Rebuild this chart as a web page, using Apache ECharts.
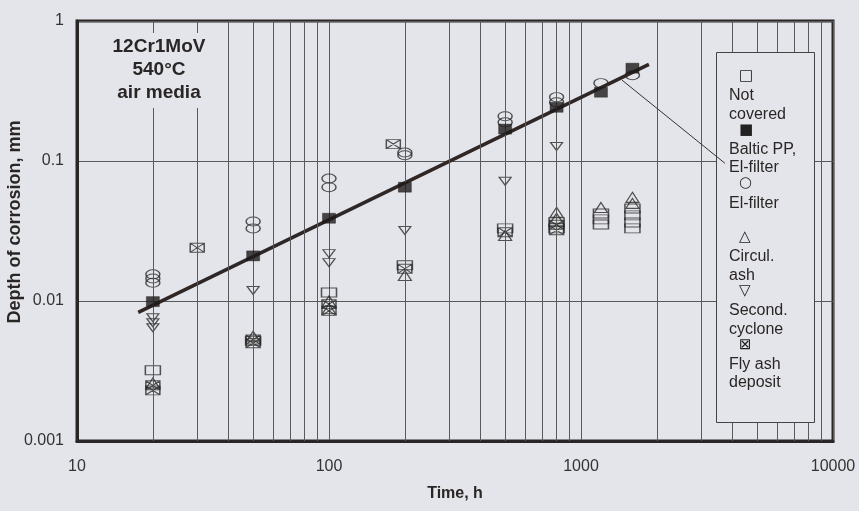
<!DOCTYPE html>
<html><head><meta charset="utf-8">
<script src="https://cdn.jsdelivr.net/npm/echarts@6/dist/echarts.min.js"></script>
<style>html,body{margin:0;padding:0;background:#e4e5ea}#c{width:859px;height:511px}</style>
</head><body><div id="c"></div>
<script>
// ---- data ----
const xTickLabels = ['10', '100', '1000', '10000'];
const yTickLabels = ['0.001', '0.01', '0.1', '1'];
const minorX = [20,30,40,50,60,70,80,90,200,300,400,500,600,700,800,900,2000,3000,4000,5000,6000,7000,8000,9000];
const notCovered = [[20,0.0032],[50,0.0052],[100,0.0115],[200,0.018],[500,0.033],[800,0.0365],[800,0.033],[1200,0.0422],[1200,0.0383],[1200,0.0352],[1600,0.0458],[1600,0.0409],[1600,0.0364],[1600,0.033]];
const balticPP = [[20,0.0099],[50,0.021],[100,0.039],[200,0.065],[500,0.169],[800,0.242],[1200,0.31],[1600,0.46]];
const elFilter = [[20,0.0155],[20,0.0145],[20,0.0135],[50,0.037],[50,0.033],[100,0.075],[100,0.065],[200,0.115],[200,0.110],[500,0.209],[500,0.189],[800,0.286],[800,0.263],[1200,0.36],[1600,0.41]];
const circulAsh = [[20,0.0026],[50,0.0056],[100,0.0100],[100,0.0088],[200,0.0152],[500,0.0294],[800,0.043],[800,0.039],[1200,0.0466],[1600,0.055],[1600,0.0498]];
const secondCyclone = [[20,0.0076],[20,0.0070],[20,0.00645],[50,0.0119],[100,0.0218],[100,0.0188],[200,0.0319],[500,0.0716],[800,0.127]];
const flyAsh = [[20,0.0025],[20,0.0023],[30,0.024],[50,0.0053],[50,0.0050],[100,0.0095],[100,0.0085],[180,0.132],[200,0.0170],[500,0.031],[800,0.035],[800,0.032]];
const fitLine = [[17.5,0.0083],[1860,0.49]];
const leader = [[1455,0.378],[3726,0.0963]];
const legendNames = ['Not covered','Baltic PP, El-filter','El-filter','Circul. ash','Second. cyclone','Fly ash deposit'];
const legendGlyph = {'Not covered':'□','Baltic PP, El-filter':'■','El-filter':'○','Circul. ash':'△','Second. cyclone':'▽','Fly ash deposit':'⊠'};
const legendLines = {'Not covered':['Not','covered'],'Baltic PP, El-filter':['Baltic PP,','El-filter'],'El-filter':['El-filter',' '],'Circul. ash':['Circul.','ash'],'Second. cyclone':['Second.','cyclone'],'Fly ash deposit':['Fly ash','deposit']};

const BG = '#e4e5ea', INK = '#2a2626', GRID = '#5a5a5a';
const FONT = 'Liberation Sans, Arial, sans-serif';
const open = {color:'rgba(0,0,0,0)', borderColor:'#2a2a2a', borderWidth:1.2};

const chart = echarts.init(document.getElementById('c'), null, {renderer:'canvas'});
chart.setOption({
  backgroundColor: BG,
  animation: false,
  textStyle: {fontFamily: FONT},
  grid: {left:77, right:26, top:21, bottom:70, containLabel:false, outerBoundsMode:'none',
    show:true, borderColor:INK, borderWidth:3, backgroundColor:'transparent'},
  title: {
    text: '12Cr1MoV\n540°C\nair media', left: 155, top: 33, textAlign: 'center',
    backgroundColor: BG, padding: [2, 4, 4, 4],
    textStyle: {fontSize: 19, fontWeight: 'bold', lineHeight: 23, color: INK, fontFamily: FONT}
  },
  graphic: [{type: 'rect', z: 50, silent: true,
    shape: {x: 716.5, y: 52.5, width: 98, height: 370},
    style: {fill: BG, stroke: '#444', lineWidth: 1}}],
  legend: {
    orient: 'vertical', left: 716, top: 52, data: legendNames, z: 60,
    icon: 'none', itemWidth: 0, itemHeight: 0, itemGap: 0, selectedMode: false,
    padding: [16.5, 10, 6, 8],
    formatter: n => '{ic|' + legendGlyph[n] + '}\n' + legendLines[n].map(s => '{t|' + s + '}').join('\n'),
    textStyle: {
      rich: {
        ic: {fontFamily: 'DejaVu Sans', fontSize: 15, lineHeight: 21, padding: [0,0,0,10], color: '#222'},
        t: {fontFamily: FONT, fontSize: 16, lineHeight: 18.5, color: INK}
      }
    }
  },
  xAxis: {
    type: 'log', logBase: 10, min: 10, max: 10000,
    axisLine: {show: true, lineStyle: {color: INK, width: 3}},
    axisTick: {show: false},
    axisLabel: {fontSize: 16, color: '#333', margin: 18, fontFamily: FONT,
      formatter: v => xTickLabels[Math.round(Math.log10(v)) - 1]},
    splitLine: {show: true, lineStyle: {color: GRID, width: 1}},
    name: 'Time, h', nameLocation: 'middle', nameGap: 45, nameMoveOverlap: false,
    nameTextStyle: {fontSize: 16, fontWeight: 'bold', color: INK, fontFamily: FONT}
  },
  yAxis: {
    type: 'log', logBase: 10, min: 0.001, max: 1,
    axisLine: {show: true, lineStyle: {color: INK, width: 3}},
    axisTick: {show: false},
    axisLabel: {fontSize: 16, color: '#333', margin: 13, fontFamily: FONT,
      formatter: v => yTickLabels[Math.round(Math.log10(v)) + 3]},
    splitLine: {show: true, lineStyle: {color: GRID, width: 1}},
    name: 'Depth of corrosion, mm', nameLocation: 'middle', nameGap: 53, nameRotate: 90, nameMoveOverlap: false,
    nameTextStyle: {fontSize: 18, fontWeight: 'bold', color: INK, fontFamily: FONT, padding: [0, 0, 0, 18]}
  },
  series: [
    {type: 'line', name: 'grid', data: [], silent: true, z: 1,
      markLine: {silent: true, symbol: 'none', label: {show: false},
        lineStyle: {color: GRID, width: 1, type: 'solid'},
        data: minorX.map(v => ({xAxis: v}))}},
    {type: 'scatter', name: 'Not covered', data: notCovered, symbol: 'rect', symbolSize: [15, 9], itemStyle: open, z: 3},
    {type: 'scatter', name: 'Circul. ash', data: circulAsh, symbol: 'triangle', symbolSize: [13, 10], itemStyle: open, z: 3},
    {type: 'scatter', name: 'Second. cyclone', data: secondCyclone, symbol: 'triangle', symbolRotate: 180, symbolSize: [12, 8], itemStyle: open, z: 3},
    {type: 'scatter', name: 'Fly ash deposit', data: flyAsh, symbol: 'path://M0 0H14V9H0Z M0 0L14 9 M14 0L0 9', symbolSize: [14, 9], itemStyle: open, z: 3},
    {type: 'scatter', name: 'El-filter', data: elFilter, symbol: 'circle', symbolSize: [14, 9], itemStyle: open, z: 3},
    {type: 'line', name: 'fit', data: fitLine, symbol: 'none', silent: true, z: 4,
      lineStyle: {color: '#2f2626', width: 3.5}},
    {type: 'scatter', name: 'Baltic PP, El-filter', data: balticPP, symbol: 'rect', symbolSize: [13, 10],
      itemStyle: {color: '#1e1a1a', borderColor: '#1e1a1a', borderWidth: 0.5}, z: 5},
    {type: 'line', name: 'leader', data: leader, symbol: 'none', silent: true, z: 55,
      lineStyle: {color: '#333', width: 1}}
  ]
});
</script></body></html>
